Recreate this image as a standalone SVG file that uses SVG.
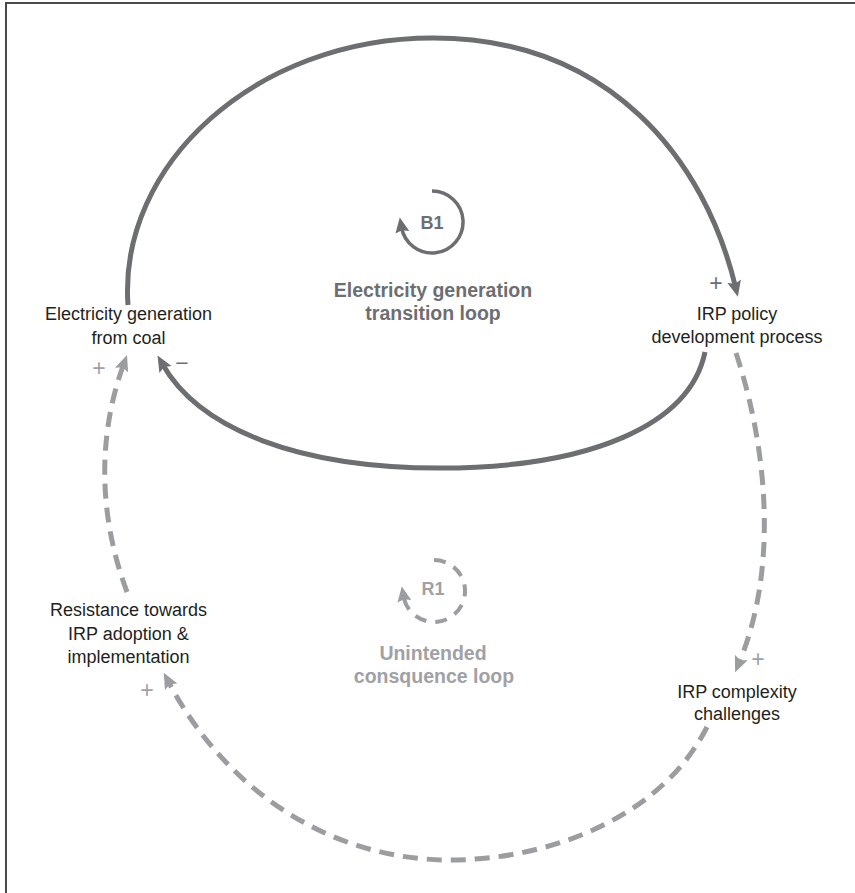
<svg xmlns="http://www.w3.org/2000/svg" width="855" height="893" viewBox="0 0 855 893">
<style>
.node{font-family:"Liberation Sans",Arial,sans-serif;font-size:18px;fill:#231f20;text-anchor:middle}
.title{font-family:"Liberation Sans",Arial,sans-serif;font-size:19.5px;font-weight:bold;text-anchor:middle}
.sign{font-family:"Liberation Sans",Arial,sans-serif;font-size:23px;text-anchor:middle}
.dk{fill:#6d6e71}
.lt{fill:#a0a1a5}
.solid{fill:none;stroke:#6d6e71;stroke-width:5}
.dash{fill:none;stroke:#9c9da1;stroke-width:5;stroke-dasharray:15 9}
</style>
<defs>
<marker id="arS" markerUnits="userSpaceOnUse" markerWidth="17" markerHeight="16" viewBox="0 0 17 16" refX="6" refY="8" orient="auto"><path d="M0,1 L16,8 L0,15 L3,8 z" fill="#6d6e71"/></marker>
<marker id="arD" markerUnits="userSpaceOnUse" markerWidth="17" markerHeight="16" viewBox="0 0 17 16" refX="6" refY="8" orient="auto"><path d="M0,1 L16,8 L0,15 L3,8 z" fill="#9c9da1"/></marker>
<marker id="arSs" markerUnits="userSpaceOnUse" markerWidth="16" markerHeight="15" viewBox="0 0 16 15" refX="5" refY="7.5" orient="auto"><path d="M0,0.5 L15,7.5 L0,14.5 L2,7.5 z" fill="#6d6e71"/></marker>
<marker id="arDs" markerUnits="userSpaceOnUse" markerWidth="16" markerHeight="15" viewBox="0 0 16 15" refX="5" refY="7.5" orient="auto"><path d="M0,0.5 L15,7.5 L0,14.5 L2,7.5 z" fill="#9c9da1"/></marker>
</defs>
<rect width="855" height="893" fill="#ffffff"/>
<path d="M6,893 V3 H855" fill="none" stroke="#4a4a4a" stroke-width="2"/>

<g id="connectors">
<path class="solid" d="M128,305 C118,165 255,38 433,38 C610,38 705,160 735.5,287" marker-end="url(#arS)"/>
<path class="solid" d="M705,352 C690,425 590,468 440,468 C300,468 200,430 162.5,364.3" marker-end="url(#arS)"/>
<path class="dash" d="M736,353 C768,450 778,570 739,663" marker-end="url(#arD)"/>
<path class="dash" d="M707,727 C660,820 545,860 450,860 C330,860 225,790 168.4,681.5" marker-end="url(#arD)"/>
<path class="dash" d="M127,592 C100,520 96,440 123.6,364.4" marker-end="url(#arD)"/>
</g>

<g id="node-coal">
<text class="node" x="128.5" y="320">Electricity generation</text>
<text class="node" x="128.5" y="344">from coal</text>
</g>
<g id="node-irp-policy">
<text class="node" x="737" y="320">IRP policy</text>
<text class="node" x="737" y="343">development process</text>
</g>
<g id="node-resistance">
<text class="node" x="128.5" y="616">Resistance towards</text>
<text class="node" x="128.5" y="639.5">IRP adoption &amp;</text>
<text class="node" x="128.5" y="663">implementation</text>
</g>
<g id="node-complexity">
<text class="node" x="737" y="698">IRP complexity</text>
<text class="node" x="737" y="720">challenges</text>
</g>

<g id="polarity">
<text class="sign dk" x="716" y="291">+</text>
<text class="sign lt" x="99" y="376">+</text>
<text class="sign dk" x="182" y="371">−</text>
<text class="sign lt" x="758" y="667">+</text>
<text class="sign lt" x="147" y="698">+</text>
</g>

<g id="loop-B1">
<path d="M432,191 A31,31 0 1 1 401.5,227.4" fill="none" stroke="#6d6e71" stroke-width="3.5" marker-end="url(#arSs)"/>
<text class="title dk" x="432" y="229" style="font-size:18px">B1</text>
<text class="title dk" x="433" y="297">Electricity generation</text>
<text class="title dk" x="433" y="320">transition loop</text>
</g>
<g id="loop-R1">
<path d="M434,560 A31,31 0 1 1 403.5,596.4" fill="none" stroke="#9c9da1" stroke-width="4" stroke-dasharray="12 9" marker-end="url(#arDs)"/>
<text class="title lt" x="433" y="595" style="font-size:18px">R1</text>
<text class="title lt" x="433" y="660">Unintended</text>
<text class="title lt" x="434" y="683">consquence loop</text>
</g>
</svg>
